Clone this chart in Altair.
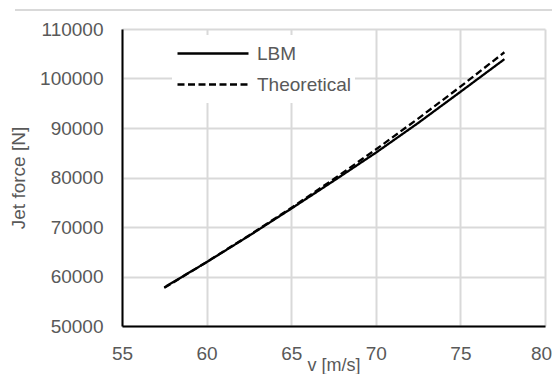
import altair as alt
import pandas as pd

velocity = [57.5, 60.0, 62.5, 65.0, 67.5, 70.0, 72.5, 75.0, 77.6]
lbm_force = [57800, 62900, 68200, 73700, 79300, 85000, 91000, 97300, 103900]
theory_force = [57700, 62900, 68300, 73850, 79650, 85650, 91900, 98350, 105300]
series_names = ["LBM", "Theoretical"]

rows = []
for v, f in zip(velocity, lbm_force):
    rows.append({"v": v, "force": f, "series": series_names[0]})
for v, f in zip(velocity, theory_force):
    rows.append({"v": v, "force": f, "series": series_names[1]})
df = pd.DataFrame(rows)

FONT = "Liberation Sans"
GRID = "#d9d9d9"
TXT = "#595959"

legend_opts = dict(title=None, orient="none", legendX=50, legendY=6,
                   symbolType="stroke", symbolSize=5041,
                   symbolStrokeWidth=2.3, clipHeight=29,
                   labelOffset=7, padding=4, fillColor="white",
                   labelFont=FONT, labelFontSize=19, labelColor=TXT)

lines = alt.Chart(df).mark_line(strokeWidth=2.3).encode(
    x=alt.X("v:Q", title="v [m/s]",
            scale=alt.Scale(domain=[55, 80], nice=False, zero=False),
            axis=alt.Axis(values=[55, 60, 65, 70, 75, 80], tickSize=0, labelPadding=18,
                          labelOffset={"condition": {"test": "datum.value == 80", "value": -4},
                                       "value": 0},
                          titleBaseline="alphabetic", titleY=44, titleFontSize=18,
                          domainColor="black", domainWidth=2,
                          gridColor=GRID, gridWidth=2, labelFlush=False)),
    y=alt.Y("force:Q", title="Jet force [N]",
            scale=alt.Scale(domain=[50000, 110000], nice=False, zero=False),
            axis=alt.Axis(values=[50000, 60000, 70000, 80000, 90000, 100000, 110000],
                          tickSize=0, labelPadding=19, titlePadding=11, format="d",
                          domainColor="black", domainWidth=2,
                          gridColor=GRID, gridWidth=2, labelFlush=False)),
    color=alt.Color("series:N", scale=alt.Scale(domain=series_names, range=["black", "black"]),
                    legend=alt.Legend(**legend_opts)),
    strokeDash=alt.StrokeDash("series:N",
                              scale=alt.Scale(domain=series_names, range=[[1, 0], [7, 3.5]]),
                              legend=alt.Legend(**legend_opts)),
)

border = alt.Chart(pd.DataFrame({"a": [0]})).mark_rule(color=GRID, strokeWidth=2).encode(
    x=alt.value(-107), x2=alt.value(430), y=alt.value(-19)
)

chart = alt.layer(border, lines).properties(
    width=423, height=297,
    autosize=alt.AutoSizeParams(type="none"),
    padding={"left": 114, "top": 21, "right": 7, "bottom": 48},
    background="white",
).configure_view(stroke=None).configure_axis(
    labelFont=FONT, labelFontSize=19, labelColor=TXT,
    titleFont=FONT, titleFontSize=19, titleColor=TXT, titleFontWeight="normal",
)

chart.save("out.html", embed_options={"renderer": "svg", "actions": False})
